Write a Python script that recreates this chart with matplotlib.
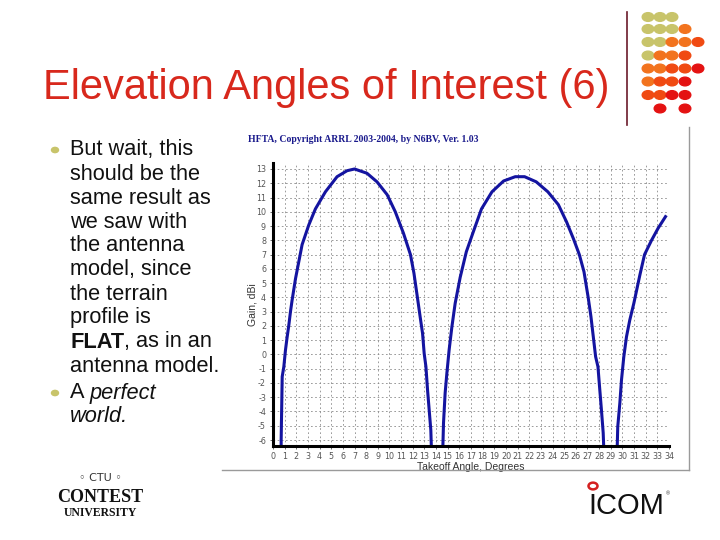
import matplotlib
matplotlib.use("Agg")
import matplotlib.pyplot as plt
from matplotlib.patches import Circle
from matplotlib.lines import Line2D

# ---- data ----
angles = [0.70, 0.70, 0.79, 0.93, 1.07, 1.20, 1.36, 1.50, 1.64, 1.93, 2.5, 3.07, 3.64, 4.5, 5.5,
          6.36, 7.0, 8.07, 8.93, 9.8, 10.5, 11.2, 11.8, 12.1, 12.45, 12.64, 12.84, 12.98, 13.13,
          13.27, 13.41, 13.55, 13.6, 14.58, 14.64, 14.78, 14.93, 15.12, 15.36, 15.64, 16.07, 16.6,
          17.2, 17.9, 18.8, 19.8, 20.8, 21.6, 22.6, 23.6, 24.5, 25.2, 25.8, 26.3, 26.7, 27.06,
          27.3, 27.5, 27.7, 27.9, 28.06, 28.2, 28.35, 28.4, 29.55, 29.6, 29.78, 29.92, 30.12,
          30.35, 30.63, 30.98, 31.5, 31.9, 32.5, 33.06, 33.7]
gains = [-6.6, -6.0, -1.56, -0.86, 0.3, 1.13, 2.06, 3.0, 3.8, 5.3, 7.7, 9.07, 10.2, 11.4, 12.46,
         12.88, 13.0, 12.7, 12.1, 11.2, 10.0, 8.5, 7.0, 5.7, 3.7, 2.6, 1.48, 0.07, -0.86,
         -2.5, -3.9, -5.3, -6.6, -6.6, -4.8, -2.7, -1.3, 0.3, 1.94, 3.58, 5.4, 7.2,
         8.6, 10.2, 11.4, 12.16, 12.46, 12.46, 12.1, 11.4, 10.5, 9.3, 8.1, 7.0, 5.8, 4.0,
         2.64, 1.24, -0.16, -0.86, -2.5, -3.9, -5.5, -6.6, -6.6, -5.07, -3.4, -1.8, -0.16,
         1.24, 2.4, 3.58, 5.57, 7.0, 8.0, 8.84, 9.66]
x_ticks = list(range(0, 35))
y_ticks = list(range(-6, 14))

title = "Elevation Angles of Interest (6)"
chart_header = "HFTA, Copyright ARRL 2003-2004, by N6BV, Ver. 1.03"
x_label = "Takeoff Angle, Degrees"
y_label = "Gain, dBi"

bullet1 = [[("But wait, this", "normal", "normal")],
           [("should be the", "normal", "normal")],
           [("same result as", "normal", "normal")],
           [("we saw with", "normal", "normal")],
           [("the antenna", "normal", "normal")],
           [("model, since", "normal", "normal")],
           [("the terrain", "normal", "normal")],
           [("profile is", "normal", "normal")],
           [("FLAT", "bold", "normal"), (", as in an", "normal", "normal")],
           [("antenna model.", "normal", "normal")]]
bullet2 = [[("A ", "normal", "normal"), ("perfect", "normal", "italic")],
           [("world.", "normal", "italic")]]

W, H = 720, 540
fig = plt.figure(figsize=(7.2, 5.4), dpi=100)
fig.patch.set_facecolor("white")
SANS = ["Liberation Sans", "DejaVu Sans"]

def fx(px):
    return px / W

def fy(py):
    return 1 - py / H

# title
fig.text(fx(43), fy(88), title, fontsize=30, color="#d8281c", family=SANS,
         va="center", ha="left")

# vertical maroon line
fig.add_artist(Line2D([fx(627), fx(627)], [fy(12), fy(125)], color="#6b1a2a", lw=1.2))

# dot grid
olive, orange, redor, red = "#c8c46a", "#f2731e", "#f04a12", "#e41212"
dot_rows = [
    [olive, olive, olive, None, None],
    [olive, olive, olive, orange, None],
    [olive, olive, orange, orange, redor],
    [olive, orange, orange, redor, None],
    [orange, orange, redor, redor, red],
    [orange, redor, redor, red, None],
    [redor, redor, red, red, None],
    [None, red, None, red, None],
]
col_x = [648, 660, 672, 685, 698]
row_y = [17, 29, 42, 55.5, 68.5, 81.5, 95, 108.5]
for r, row in enumerate(dot_rows):
    for c, col in enumerate(row):
        if col:
            fig.add_artist(Circle((fx(col_x[c]), fy(row_y[r])), 5.8 / W, color=col,
                                  transform=fig.transFigure))

# bullet text with mixed styles
fig.canvas.draw()
renderer = fig.canvas.get_renderer()

def draw_runs(x_px, y_px, runs, size=15.7):
    x = x_px
    for txt, weight, style in runs:
        t = fig.text(fx(x), fy(y_px), txt, fontsize=size, family=SANS, weight=weight,
                     style=style, va="center", ha="left", color="#111111")
        bb = t.get_window_extent(renderer=renderer)
        x += bb.width

line_h = 24
y0 = 150
for i, runs in enumerate(bullet1):
    draw_runs(70, y0 + i * line_h, runs)
y1 = 393
for i, runs in enumerate(bullet2):
    draw_runs(70, y1 + i * line_h, runs)
for by in (y0, y1):
    fig.add_artist(Circle((fx(55), fy(by)), 3.5 / W, color="#c8c46a",
                          transform=fig.transFigure))

# chart frame lines (screenshot border)
fig.add_artist(Line2D([fx(689), fx(689)], [fy(127), fy(470)], color="#9a9a9a", lw=1.0))
fig.add_artist(Line2D([fx(222), fx(689)], [fy(470), fy(470)], color="#9a9a9a", lw=1.0))

# chart header
fig.text(fx(248), fy(140), chart_header, fontsize=7, color="#1a1a8c",
         family=["Liberation Serif", "DejaVu Serif"], weight="bold", va="center", ha="left")

# axes
ax = fig.add_axes([fx(273), fy(446), fx(669) - fx(273), fy(163) - fy(446)])
ax.set_xlim(0, 34)
ax.set_ylim(-6.42, 13.42)
ax.plot(angles, gains, color="#1414a0", lw=2.2, solid_joinstyle="round", clip_on=True)
ax.set_xticks(x_ticks)
ax.set_yticks(y_ticks)
ax.set_xticklabels([str(v) for v in x_ticks])
ax.set_yticklabels([str(v) for v in y_ticks])
ax.grid(True, color="#8a8a8a", ls=(0, (2, 3)), lw=0.6)
ax.tick_params(axis="both", labelsize=5.8, colors="#555555", length=2, width=0.6, pad=2)
ax.tick_params(axis="y", pad=3)
for s in ("top", "right"):
    ax.spines[s].set_visible(False)
for s in ("left", "bottom"):
    ax.spines[s].set_linewidth(2.2)
    ax.spines[s].set_color("black")
ax.set_xlabel(x_label, fontsize=7.5, color="#333333", family=SANS, labelpad=1)
ax.set_ylabel(y_label, fontsize=7.5, color="#333333", family=SANS, labelpad=-1)

# Contest University logo
fig.text(fx(100), fy(478), "\u25e6 CTU \u25e6", fontsize=8, family=["DejaVu Sans"],
         ha="center", va="center", color="#333333")
fig.text(fx(100), fy(498), "CONTEST", fontsize=13, family=["Liberation Serif", "DejaVu Serif"],
         weight="bold", ha="center", va="center", color="#111111")
fig.text(fx(100), fy(513), "UNIVERSITY", fontsize=8.5, family=["Liberation Serif", "DejaVu Serif"],
         weight="bold", ha="center", va="center", color="#111111")

# ICOM logo
fig.text(fx(588), fy(506), "ICOM", fontsize=21, family=SANS, ha="left", va="center",
         color="#111111")
fig.add_artist(Circle((fx(593), fy(486)), 4.5 / W, facecolor="none", edgecolor="#d42020",
                      lw=1.8, transform=fig.transFigure))
fig.text(fx(666), fy(494), "\u00ae", fontsize=4, family=SANS, ha="left", va="center",
         color="#333333")

fig.savefig("out.png", dpi=100)
